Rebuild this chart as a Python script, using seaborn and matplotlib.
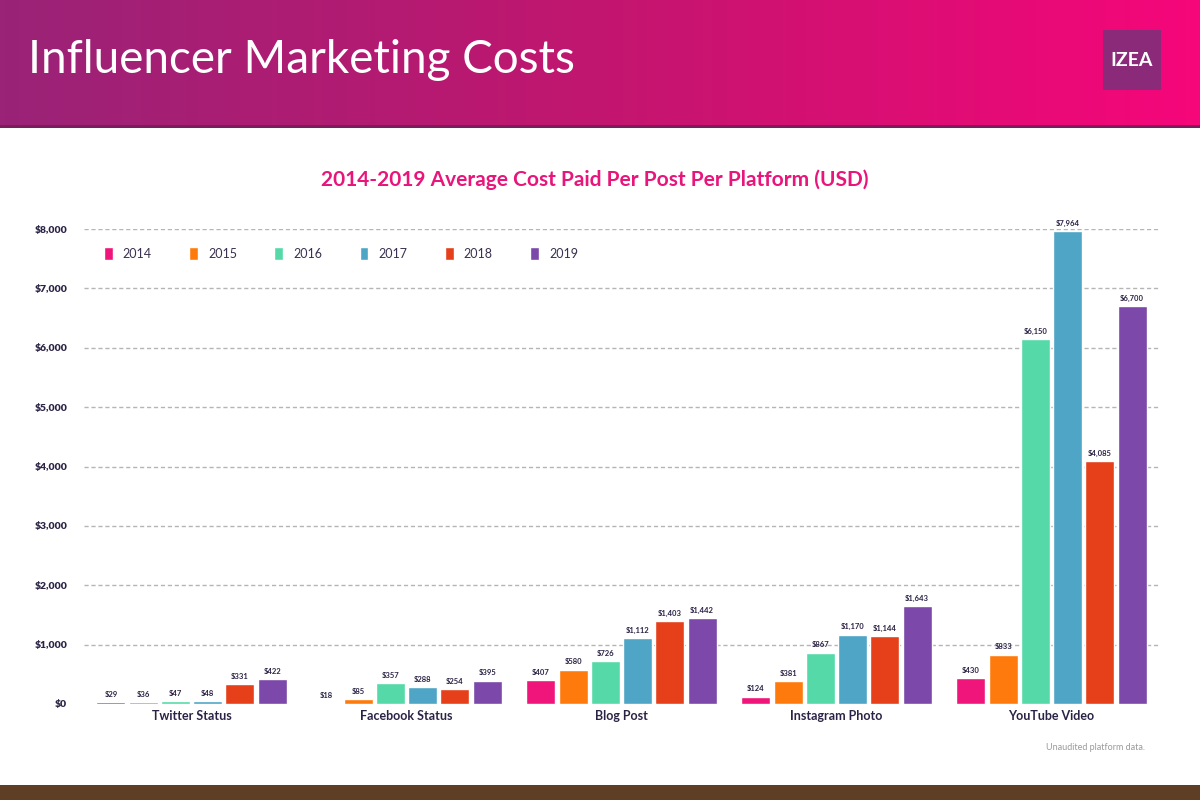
import matplotlib
matplotlib.use("Agg")
import matplotlib.pyplot as plt
import seaborn as sns
import numpy as np
import pandas as pd
from matplotlib.colors import LinearSegmentedColormap

platforms = ["Twitter Status", "Facebook Status", "Blog Post", "Instagram Photo", "YouTube Video"]
years = ["2014", "2015", "2016", "2017", "2018", "2019"]
cost_2014 = [29, 18, 407, 124, 430]
cost_2015 = [36, 85, 580, 381, 833]
cost_2016 = [47, 357, 726, 867, 6150]
cost_2017 = [48, 288, 1112, 1170, 7964]
cost_2018 = [331, 254, 1403, 1144, 4085]
cost_2019 = [422, 395, 1442, 1643, 6700]
y_ticks = [0, 1000, 2000, 3000, 4000, 5000, 6000, 7000, 8000]
y_tick_labels = ["$0", "$1,000", "$2,000", "$3,000", "$4,000", "$5,000", "$6,000", "$7,000", "$8,000"]

colors = ["#f0157a", "#ff7a0c", "#55d9a8", "#4fa5c5", "#e6401b", "#7c48a9"]

series = [cost_2014, cost_2015, cost_2016, cost_2017, cost_2018, cost_2019]
rows = []
for yr, vals in zip(years, series):
    for p, v in zip(platforms, vals):
        rows.append({"Platform": p, "Year": yr, "Cost": v})
df = pd.DataFrame(rows)

sns.set_theme(style="white")
plt.rcParams["font.family"] = ["Lato", "DejaVu Sans"]

fig = plt.figure(figsize=(12, 8), dpi=100)
fig.patch.set_facecolor("white")

# header gradient
hax = fig.add_axes([0, 1 - 125 / 800, 1, 125 / 800])
cmap = LinearSegmentedColormap.from_list("hdr", ["#9a2377", "#c2166f", "#f6067a"])
hax.imshow(np.linspace(0, 1, 256).reshape(1, -1), aspect="auto", cmap=cmap, extent=[0, 1, 0, 1])
hax.set_axis_off()
fig.text(28 / 1200, 1 - 60 / 800, "Influencer Marketing Costs", color="white", fontsize=33,
         fontweight="normal", va="center", ha="left")
# thin line under header
lax = fig.add_axes([0, 1 - 128 / 800, 1, 3 / 800])
lax.set_facecolor("#7a1d5c"); lax.set_xticks([]); lax.set_yticks([])
for s in lax.spines.values():
    s.set_visible(False)
# logo box
logo = fig.add_axes([1103 / 1200, 1 - 90 / 800, 58 / 1200, 60 / 800])
logo.set_facecolor("#8a2a78"); logo.set_xticks([]); logo.set_yticks([])
for s in logo.spines.values():
    s.set_visible(False)
logo.text(0.5, 0.5, "IZEA", color="white", fontsize=14, fontweight="bold", ha="center", va="center",
          transform=logo.transAxes)

# bottom band
bax = fig.add_axes([0, 0, 1, 15 / 800])
bax.set_facecolor("#5e3e24"); bax.set_xticks([]); bax.set_yticks([])
for s in bax.spines.values():
    s.set_visible(False)

fig.text(595 / 1200, 1 - 180 / 800, "2014-2019 Average Cost Paid Per Post Per Platform (USD)",
         color="#e8157a", fontsize=15, fontweight="bold", ha="center", va="center")

ax = fig.add_axes([84 / 1200, 1 - 704 / 800, 1075 / 1200, 475 / 800])
sns.barplot(data=df, x="Platform", y="Cost", hue="Year", palette=colors, width=0.9, gap=0.1,
            ax=ax, legend=True, saturation=1, order=platforms, hue_order=years)
ax.set_xlim(-0.5, 4.5)
ax.set_ylim(0, 8000)
ax.set_yticks(y_ticks)
ax.set_yticklabels(y_tick_labels, fontsize=7.5, fontweight="heavy", color="#2b2345")
ax.tick_params(axis="y", length=0, pad=12)
ax.tick_params(axis="x", length=0, pad=4)
for lab in ax.get_xticklabels():
    lab.set_fontsize(9); lab.set_fontweight("bold"); lab.set_color("#2b2345")
ax.set_xlabel(""); ax.set_ylabel("")
for s in ax.spines.values():
    s.set_visible(False)
ax.set_axisbelow(True)
for t in y_ticks[1:]:
    ax.axhline(t, color="#b5b5b5", lw=1.0, ls=(0, (3, 2)), zorder=0)

for cont in ax.containers:
    labels = ["$" + format(int(v), ",") for v in cont.datavalues]
    ax.bar_label(cont, labels=labels, fontsize=5.5, fontweight="bold", color="#2b2345", padding=3)

leg = ax.legend(loc="upper left", bbox_to_anchor=(0.008, 0.985), ncol=6, frameon=False,
                fontsize=9, handlelength=0.7, handleheight=1.2, columnspacing=3.0, handletextpad=0.8)
for txt in leg.get_texts():
    txt.set_color("#3a3050")

fig.text(1145 / 1200, 1 - 748 / 800, "Unaudited platform data.", color="#9a9a9a", fontsize=6.5,
         ha="right", va="center")

fig.savefig("out.png", dpi=100, facecolor="white")
